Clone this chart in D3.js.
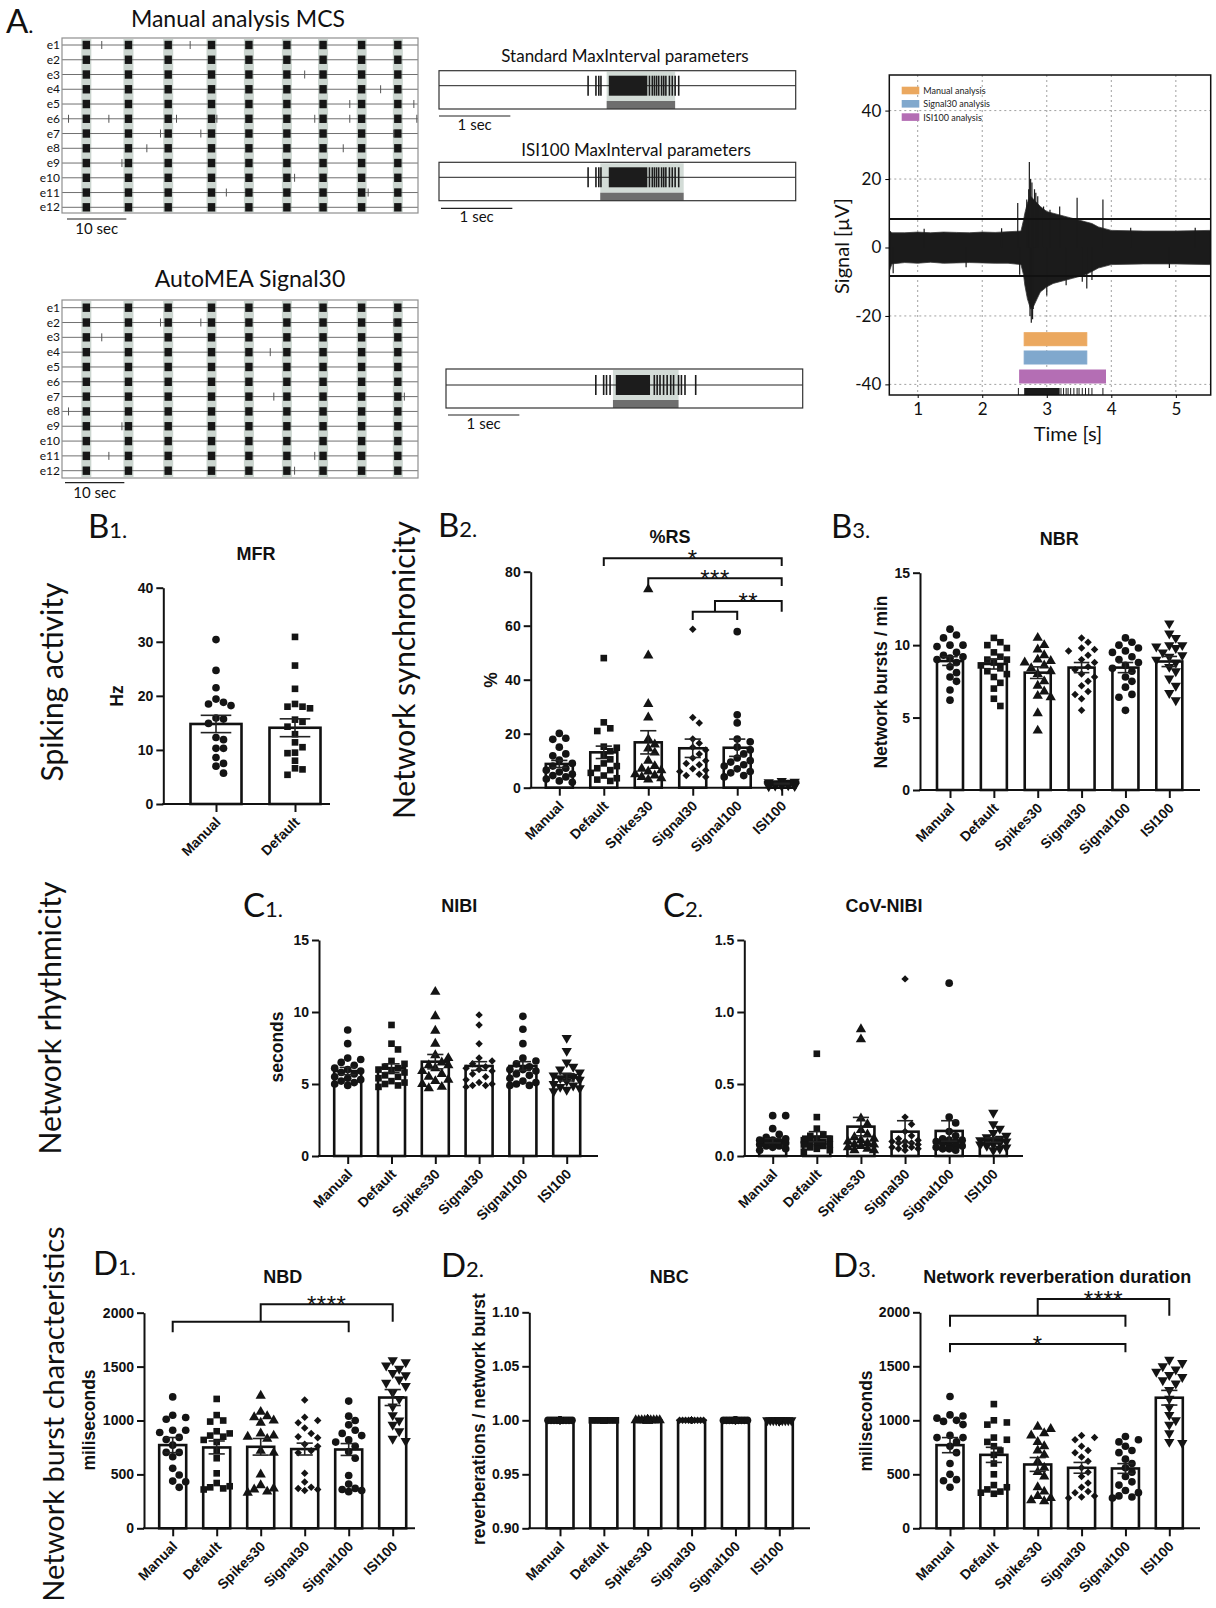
<!DOCTYPE html>
<html><head><meta charset="utf-8">
<script src="https://cdn.jsdelivr.net/npm/d3@7"></script>
<style>body{margin:0;background:#fff}svg{display:block}</style>
</head><body>
<svg id="fig" width="1216" height="1608"></svg>
<script>
// ---------------- DATA ----------------
const electrodes = ["e1","e2","e3","e4","e5","e6","e7","e8","e9","e10","e11","e12"];
const burstTimes = [4.1, 11.2, 17.9, 25.2, 31.5, 37.9, 44.0, 50.5, 56.6];
const manualIsolated = [[6.7,21.6],[],[40.9],[53.7],[48.5,59.3],[1.1,7.9,19.3,26.1,42.6,48.5,59.8],[16.6,23.4,55.9],[14.3,47.4],[10.1],[39.2],[27.7,51.6],[]];
const autoIsolated = [[],[16.6,23.4,55.9],[6.7],[35.1],[],[],[35.7,57.7],[1.1],[10.1],[],[7.9,42.6],[39.2]];

const stdSpikes = [2.09,2.20,2.24,2.27,2.95,2.99,3.02,3.05,3.08,3.12,3.15,3.18,3.23,3.27,3.31,3.36];
const stdCore = [2.38, 2.92];
const stdRange = [2.35, 3.31];
const isiRange = [2.26, 3.43];
const autoSpikes = [2.10,2.21,2.25,2.30,2.92,2.96,3.00,3.05,3.10,3.15,3.19,3.26,3.30,3.35,3.50];
const autoCore = [2.38, 2.86];
const autoRange = [2.34, 3.26];

const sigT     = [0.56,0.6,0.8,1.0,1.2,1.4,1.6,1.8,2.0,2.2,2.4,2.6,2.64,2.66,2.7,2.75,2.8,2.85,2.9,3.0,3.1,3.2,3.3,3.4,3.5,3.6,3.7,3.8,3.9,4.0,4.5,5.0,5.54];
const sigUpper = [5,4.3,4.3,4.5,4.3,4.5,4.4,4.3,4.5,4.4,4.6,4.8,8,10,13,15,14,13,12,10.5,10,9.5,9,8.5,8,7.5,7,6,5.5,5,4.8,4.8,5];
const sigLower = [-7,-4.8,-4.4,-4.6,-4.3,-4.6,-4.5,-4.4,-4.5,-4.6,-4.6,-5,-8,-11,-15,-18,-17,-15,-13,-11.5,-10.5,-10,-9.5,-9,-8.5,-8,-7,-6,-5.5,-5,-4.8,-4.8,-5];
const sigPeaks = [[0.62,-7.5],[1.1,5.5],[1.75,-5.8],[2.3,5.6],[2.55,13],[2.58,-8],[2.69,14],[2.72,17],[2.73,25],[2.75,20],[2.77,19],[2.76,-22],[2.78,-21],[2.74,-20],[2.81,17],[2.83,16],[2.86,15],[2.79,-18],[2.95,12],[3.0,-14],[3.05,11],[3.2,12],[3.3,-11],[3.47,14.5],[3.55,-10],[3.62,-12],[3.7,-9.5],[3.87,14],[4.3,5.8],[4.9,-6],[5.3,5.8]];
const sigThreshold = 8.3;
const detectLabels = ["Manual analysis","Signal30 analysis","ISI100 analysis"];
const detectRanges = [[2.65,3.62],[2.65,3.62],[2.58,3.91]];
const detectColors = ["#eba85f","#80a8cd","#b46eb4"];
const sigRasterCore = [2.65, 3.2];
const sigRasterTicks = [2.56,3.22,3.26,3.30,3.33,3.37,3.42,3.47,3.50,3.55,3.60,3.65,3.70,3.87];

const groups = ["Manual","Default","Spikes30","Signal30","Signal100","ISI100"];
const groupsB1 = ["Manual","Default"];
const shapes = ["circle","square","triangle","diamond","circle","triangleDown"];

// B1 MFR (Hz)
const mfrPoints = [
 [30.4,24.7,21.5,18.8,18.5,18.2,19.4,15.9,15.7,14.9,11.9,12.3,10.3,10.3,8.6,7.5,7.0,5.7],
 [30.9,25.6,21.3,18.5,17.7,18.0,18.0,15.6,15.2,14.3,12.9,11.4,10.5,9.5,9.4,8.0,6.6,6.4,5.4]];
const mfrMeans = [14.8, 14.1];
const mfrSem = [1.6, 1.65];
// B2 %RS
const rsPoints = [
 [20.1,18.3,17.9,15.0,12.5,11.8,10.2,9.0,8.0,7.2,6.5,5.8,5.0,4.5,4.0,3.2,2.5,2.0],
 [48.0,24.2,22.0,21.0,15.2,14.8,13.5,12.0,10.5,9.0,8.0,7.2,6.5,5.5,4.5,3.5,3.0,2.5],
 [73.5,49.0,31.0,26.0,18.0,16.0,14.5,13.0,10.0,8.0,7.0,6.5,6.0,5.0,4.5,4.0,3.5,3.0],
 [58.7,26.0,24.0,18.0,16.5,15.0,14.0,12.5,11.0,10.0,9.0,8.5,7.0,6.5,6.0,5.0,4.5,4.0],
 [57.8,27.0,24.0,18.0,17.0,15.0,14.0,12.5,11.0,10.0,9.5,8.5,8.0,7.0,6.0,5.5,4.5,4.0],
 [2.5,2.2,2.0,1.8,1.7,1.5,1.5,1.4,1.3,1.2,1.1,1.0,1.0,0.9,0.8,0.7,0.6,0.5]];
const rsMeans = [8.8, 13.1, 16.8, 14.6, 14.8, 1.5];
const rsSem = [1.3, 2.3, 4.3, 3.4, 3.2, 0.15];
// B3 NBR
const nbrPoints = [
 [11.1,10.7,10.5,10.0,9.9,10.0,9.5,9.2,9.1,9.0,8.8,8.5,8.1,7.8,7.5,6.9,6.2,9.3],
 [10.5,10.2,10.0,9.8,9.5,9.2,9.0,8.8,8.6,8.4,8.2,8.0,7.8,7.4,7.0,6.3,5.8,9.0],
 [10.5,10.0,9.7,9.3,9.0,8.8,8.6,8.4,8.2,8.0,7.5,7.2,6.8,6.4,6.5,5.3,4.1,8.9],
 [10.5,10.2,9.8,9.6,9.3,9.0,8.8,8.5,8.3,8.0,7.8,7.5,7.2,6.8,6.6,6.3,5.5,9.7],
 [10.5,10.2,10.0,9.8,9.5,9.2,9.0,8.8,8.6,8.4,8.2,7.8,7.5,7.1,6.6,6.4,5.5,9.6],
 [11.5,10.8,10.5,10.0,10.0,9.8,9.5,9.3,9.2,9.0,8.8,8.5,8.2,7.7,7.2,6.7,6.2,9.9]];
const nbrMeans = [8.9, 8.7, 8.1, 8.45, 8.45, 8.87];
const nbrSem = [0.3, 0.35, 0.4, 0.35, 0.35, 0.35];
// C1 NIBI
const nibiPoints = [
 [8.75,7.8,6.8,6.7,6.5,6.3,6.1,6.0,5.9,5.7,5.5,5.4,5.3,5.2,5.1,5.0,4.9,5.8],
 [9.1,7.8,7.4,6.6,6.4,6.2,6.0,5.9,5.8,5.6,5.5,5.4,5.2,5.1,5.0,4.9,4.8,6.1],
 [11.4,9.7,8.7,7.8,7.0,6.8,6.5,6.3,6.1,5.9,5.7,5.5,5.3,5.2,5.0,4.8,4.7,6.3],
 [9.8,9.1,7.8,6.8,6.6,6.4,6.2,6.0,5.9,5.7,5.5,5.3,5.1,5.0,4.9,4.8,4.9,6.1],
 [9.7,8.8,7.8,6.8,6.6,6.4,6.2,6.0,5.9,5.7,5.6,5.4,5.2,5.1,5.0,4.9,4.9,6.0],
 [8.2,7.3,6.5,6.2,6.0,5.8,5.6,5.5,5.4,5.3,5.2,5.0,4.9,4.8,4.7,4.6,4.5,5.6]];
const nibiMeans = [5.9, 6.1, 6.55, 6.25, 6.25, 5.46];
const nibiSem = [0.25, 0.3, 0.5, 0.3, 0.3, 0.25];
// C2 CoV-NIBI
const covPoints = [
 [0.28,0.28,0.19,0.15,0.13,0.12,0.11,0.10,0.10,0.09,0.09,0.08,0.07,0.07,0.06,0.05,0.04,0.11],
 [0.71,0.27,0.19,0.15,0.14,0.12,0.11,0.10,0.10,0.09,0.08,0.08,0.07,0.06,0.05,0.04,0.03,0.12],
 [0.88,0.81,0.26,0.22,0.18,0.15,0.13,0.11,0.10,0.09,0.08,0.08,0.07,0.06,0.05,0.04,0.04,0.12],
 [1.23,0.27,0.22,0.17,0.14,0.12,0.11,0.10,0.09,0.09,0.08,0.07,0.06,0.06,0.05,0.05,0.04,0.10],
 [1.20,0.27,0.23,0.17,0.14,0.12,0.11,0.10,0.10,0.09,0.08,0.07,0.07,0.06,0.05,0.05,0.04,0.11],
 [0.30,0.22,0.19,0.16,0.14,0.13,0.12,0.11,0.10,0.10,0.09,0.08,0.08,0.07,0.06,0.05,0.04,0.11]];
const covMeans = [0.106, 0.134, 0.204, 0.169, 0.174, 0.111];
const covSem = [0.015, 0.035, 0.064, 0.076, 0.071, 0.015];
// D1 NBD (ms)
const nbdPoints = [
 [1219,1049,1028,1012,910,910,889,843,824,771,704,704,664,556,494,438,432,380],
 [1200,1050,1000,990,900,880,860,850,820,800,720,650,510,420,390,380,370,360],
 [1230,1080,1040,1030,1000,980,880,860,850,830,720,700,500,400,370,360,340,330],
 [1190,1030,1000,980,930,880,850,840,780,760,720,700,510,430,380,370,360,350],
 [1180,1040,1000,960,910,880,860,820,800,760,710,650,490,410,370,360,350,340],
 [1560,1540,1510,1480,1440,1420,1380,1350,1320,1260,1200,1130,1050,1000,960,900,830,810]];
const nbdMeans = [772, 750, 756, 735, 731, 1213];
const nbdSem = [70, 60, 77, 55, 55, 74];
// D2 NBC
const nbcPoints = groups.map(() => [1,1,1,1,1,1,1,1,1,1,1,1,1,1,1,1,1,1]);
const nbcMeans = [1, 1, 1, 1, 1, 1];
const nbcSem = [0, 0, 0, 0, 0, 0];
// D3 Network reverberation duration (ms)
const nrdPoints = [
 [1220,1050,1040,1020,1000,990,960,860,840,800,760,700,600,500,450,440,380,840],
 [1150,1000,980,960,840,820,800,760,720,680,600,500,400,380,360,340,330,320],
 [940,920,880,860,800,760,720,680,620,560,520,480,380,340,300,280,260,250],
 [860,840,820,760,720,700,660,620,560,520,480,420,380,340,330,300,290,280],
 [850,820,800,760,720,700,640,600,560,520,480,430,400,350,330,300,290,280],
 [1560,1530,1500,1470,1450,1420,1400,1370,1340,1280,1200,1120,1050,1000,960,880,800,790]];
const nrdMeans = [770, 680, 591, 560, 554, 1209];
const nrdSem = [70, 70, 64, 50, 45, 68];

// ---------------- DRAWING ----------------
const svg = d3.select("#fig");
const SANS = "Lato, 'Open Sans', sans-serif";
const BOLD = "'Liberation Sans', Arial, sans-serif";

function txt(g, x, y, s, size, opts={}) {
  const t = g.append("text").attr("x", x).attr("y", y).text(s)
    .attr("font-family", opts.family || SANS).attr("font-size", size)
    .attr("fill", opts.fill || "#111")
    .attr("text-anchor", opts.anchor || "start");
  if (opts.weight) t.attr("font-weight", opts.weight);
  if (opts.rotate) t.attr("transform", `rotate(${opts.rotate},${x},${y})`);
  return t;
}
function panelLetter(x, y, L, n) {
  const t = svg.append("text").attr("x", x).attr("y", y).attr("font-family", SANS).attr("fill", "#111");
  t.append("tspan").attr("font-size", 33).text(L);
  t.append("tspan").attr("font-size", 22).text(n);
}

// ---- Panel A letters and row labels
panelLetter(6, 33, "A", ".");
txt(svg, 63, 682, "Spiking activity", 30, {anchor: "middle", rotate: -90});
txt(svg, 415, 670, "Network synchronicity", 30, {anchor: "middle", rotate: -90});
txt(svg, 61, 1018, "Network rhythmicity", 30, {anchor: "middle", rotate: -90});
txt(svg, 64, 1414, "Network burst characteristics", 29, {anchor: "middle", rotate: -90});

// ---- Rasters
function raster(cfg) {
  const g = svg.append("g");
  const x = d3.scaleLinear().domain([0, 60]).range([62, 418]);
  const y = d3.scalePoint().domain(electrodes).range([cfg.r0, cfg.r1]);
  txt(g, cfg.titleX, cfg.titleY, cfg.title, 23, {anchor: "middle"});
  burstTimes.forEach(t => g.append("rect").attr("x", x(t) - 5).attr("y", cfg.top + 1)
    .attr("width", 10).attr("height", cfg.bottom - cfg.top - 2).attr("fill", "#cbd5cf"));
  electrodes.forEach(e => g.append("line").attr("x1", 62).attr("x2", 418)
    .attr("y1", y(e)).attr("y2", y(e)).attr("stroke", "#707070").attr("stroke-width", 1));
  g.append("rect").attr("x", 62).attr("y", cfg.top).attr("width", 356).attr("height", cfg.bottom - cfg.top)
    .attr("fill", "none").attr("stroke", "#8f8f8f").attr("stroke-width", 1.2);
  electrodes.forEach(e => burstTimes.forEach(t => g.append("rect").attr("x", x(t) - 3.7).attr("y", y(e) - 4.2)
    .attr("width", 7.4).attr("height", 8.4).attr("fill", "#161616")));
  cfg.isolated.forEach((arr, i) => arr.forEach(t => g.append("line").attr("x1", x(t)).attr("x2", x(t))
    .attr("y1", y(electrodes[i]) - 4).attr("y2", y(electrodes[i]) + 4).attr("stroke", "#555").attr("stroke-width", 1)));
  electrodes.forEach(e => txt(g, 60, y(e) + 4, e, 12, {anchor: "end"}));
  g.append("line").attr("x1", x(0) + cfg.sb).attr("x2", x(10) + cfg.sb).attr("y1", cfg.sbY).attr("y2", cfg.sbY)
    .attr("stroke", "#222").attr("stroke-width", 1.2);
  txt(g, (x(0) + x(10)) / 2 + cfg.sb, cfg.sbY + 15, "10 sec", 15, {anchor: "middle"});
}
raster({title: "Manual analysis MCS", titleX: 238, titleY: 27, top: 38, bottom: 213, r0: 45, r1: 207.3, isolated: manualIsolated, sb: 5, sbY: 219});
raster({title: "AutoMEA Signal30", titleX: 250, titleY: 287, top: 300, bottom: 478, r0: 307.7, r1: 470.7, isolated: autoIsolated, sb: 3, sbY: 482.7});

// ---- Burst detail boxes
function burstBox(cfg) {
  const g = svg.append("g");
  const x = d3.scaleLinear().domain([0, 5]).range([cfg.x0, cfg.x0 + 356.7]);
  if (cfg.title) txt(g, cfg.titleX, cfg.titleY, cfg.title, 17, {anchor: "middle"});
  g.append("rect").attr("x", x(cfg.range[0])).attr("y", cfg.top + 1).attr("width", x(cfg.range[1]) - x(cfg.range[0]))
    .attr("height", cfg.bottom - cfg.top - 9).attr("fill", "#d3dcd7");
  g.append("rect").attr("x", x(cfg.range[0])).attr("y", cfg.bottom - 8).attr("width", x(cfg.range[1]) - x(cfg.range[0]))
    .attr("height", 8).attr("fill", "#6e6e6e");
  g.append("line").attr("x1", x(0)).attr("x2", x(5)).attr("y1", cfg.mid).attr("y2", cfg.mid).attr("stroke", "#222").attr("stroke-width", 1);
  g.append("rect").attr("x", x(cfg.core[0])).attr("y", cfg.mid - 10).attr("width", x(cfg.core[1]) - x(cfg.core[0]))
    .attr("height", 20).attr("fill", "#1c1c1c");
  cfg.spikes.forEach(t => g.append("line").attr("x1", x(t)).attr("x2", x(t)).attr("y1", cfg.mid - 10).attr("y2", cfg.mid + 10)
    .attr("stroke", "#1c1c1c").attr("stroke-width", 1.6));
  g.append("rect").attr("x", x(0)).attr("y", cfg.top).attr("width", 356.7).attr("height", cfg.bottom - cfg.top)
    .attr("fill", "none").attr("stroke", "#333").attr("stroke-width", 1.2);
  g.append("line").attr("x1", x(0) + cfg.sb).attr("x2", x(1) + cfg.sb).attr("y1", cfg.sbY).attr("y2", cfg.sbY)
    .attr("stroke", "#222").attr("stroke-width", 1.2);
  txt(g, (x(0) + x(1)) / 2 + cfg.sb, cfg.sbY + 14, "1 sec", 15, {anchor: "middle"});
}
burstBox({title: "Standard MaxInterval parameters", titleX: 625, titleY: 62, x0: 439, top: 70.7, bottom: 109, mid: 85.7, range: stdRange, core: stdCore, spikes: stdSpikes, sb: 0, sbY: 116});
burstBox({title: "ISI100 MaxInterval parameters", titleX: 636, titleY: 156, x0: 439, top: 162.3, bottom: 200.7, mid: 177.3, range: isiRange, core: stdCore, spikes: stdSpikes, sb: 2, sbY: 208.3});
burstBox({title: null, x0: 446, top: 369, bottom: 408, mid: 385, range: autoRange, core: autoCore, spikes: autoSpikes, sb: 2, sbY: 415});

// ---- Signal panel
(function () {
  const g = svg.append("g");
  const x = d3.scaleLinear().domain([0.56, 5.54]).range([889.3, 1210.7]);
  const y = d3.scaleLinear().domain([-43.1, 50.4]).range([395, 75]);
  const clip = g.append("clipPath").attr("id", "sigclip");
  clip.append("rect").attr("x", 889.3).attr("y", 75).attr("width", 321.4).attr("height", 320);
  [1, 2, 3, 4, 5].forEach(v => g.append("line").attr("x1", x(v)).attr("x2", x(v)).attr("y1", 75).attr("y2", 395)
    .attr("stroke", "#a0a0a0").attr("stroke-dasharray", "2,3").attr("stroke-width", 1));
  [-40, -20, 0, 20, 40].forEach(v => g.append("line").attr("x1", 889.3).attr("x2", 1210.7).attr("y1", y(v)).attr("y2", y(v))
    .attr("stroke", "#a0a0a0").attr("stroke-dasharray", "2,3").attr("stroke-width", 1));
  const inner = g.append("g").attr("clip-path", "url(#sigclip)");
  const area = d3.area().x((d, i) => x(sigT[i])).y0((d, i) => y(sigLower[i])).y1((d, i) => y(sigUpper[i]));
  inner.append("path").attr("d", area(sigT)).attr("fill", "#1b1b1b").attr("stroke", "#3a3a3a").attr("stroke-width", 0.8);
  sigPeaks.forEach(p => inner.append("line").attr("x1", x(p[0])).attr("x2", x(p[0])).attr("y1", y(0)).attr("y2", y(p[1]))
    .attr("stroke", "#1b1b1b").attr("stroke-width", 1.2));
  [sigThreshold, -sigThreshold].forEach(v => inner.append("line").attr("x1", 889.3).attr("x2", 1210.7).attr("y1", y(v)).attr("y2", y(v))
    .attr("stroke", "#111").attr("stroke-width", 2));
  const barY = [332.7, 351, 370];
  detectRanges.forEach((r, i) => inner.append("rect").attr("x", x(r[0])).attr("y", barY[i]).attr("width", x(r[1]) - x(r[0]))
    .attr("height", 13).attr("fill", detectColors[i]).attr("stroke", detectColors[i]).attr("stroke-width", 1));
  inner.append("rect").attr("x", x(sigRasterCore[0])).attr("y", 388).attr("width", x(sigRasterCore[1]) - x(sigRasterCore[0]))
    .attr("height", 7).attr("fill", "#1b1b1b");
  sigRasterTicks.forEach(t => inner.append("line").attr("x1", x(t)).attr("x2", x(t)).attr("y1", 388).attr("y2", 395)
    .attr("stroke", "#1b1b1b").attr("stroke-width", 1));
  detectLabels.forEach((s, i) => {
    g.append("rect").attr("x", 901.7).attr("y", 86.7 + i * 13.3).attr("width", 17.6).attr("height", 7.6).attr("fill", detectColors[i]);
    txt(g, 923.3, 94 + i * 13.3, s, 9, {fill: "#222"});
  });
  g.append("rect").attr("x", 889.3).attr("y", 75).attr("width", 321.4).attr("height", 320)
    .attr("fill", "none").attr("stroke", "#111").attr("stroke-width", 1.5);
  const ya = g.append("g").attr("transform", "translate(889.3,0)")
    .call(d3.axisLeft(y).tickValues([-40, -20, 0, 20, 40]).tickFormat(d => String(d)).tickSize(4).tickSizeOuter(0).tickPadding(4));
  ya.select(".domain").remove();
  ya.selectAll("text").attr("font-family", SANS).attr("font-size", 17).attr("fill", "#111");
  const xa = g.append("g").attr("transform", "translate(0,395)")
    .call(d3.axisBottom(x).tickValues([1, 2, 3, 4, 5]).tickFormat(d => String(d)).tickSize(3).tickSizeOuter(0).tickPadding(5));
  xa.select(".domain").remove();
  xa.selectAll("text").attr("font-family", SANS).attr("font-size", 17).attr("fill", "#111");
  txt(g, 849, 246, "Signal [\u00b5V]", 20, {anchor: "middle", rotate: -90});
  txt(g, 1068, 441, "Time [s]", 20, {anchor: "middle"});
})();

// ---- Bar panels
function symFor(shape) {
  if (shape === "circle") return {type: d3.symbolCircle, size: 46, rot: 0};
  if (shape === "square") return {type: d3.symbolSquare, size: 44, rot: 0};
  if (shape === "triangle") return {type: d3.symbolTriangle, size: 46, rot: 0};
  if (shape === "diamond") return {type: d3.symbolSquare, size: 28, rot: 45};
  return {type: d3.symbolTriangle, size: 46, rot: 180};
}
function swarm(values, cx, y, spacing, maxOff, minDist) {
  const idx = values.map((v, i) => i).sort((a, b) => values[b] - values[a]);
  const placed = [];
  const xs = new Array(values.length);
  const cands = [0];
  for (let k = 1; k * spacing <= maxOff + 0.01; k++) cands.push(k * spacing, -k * spacing);
  idx.forEach(i => {
    const py = y(values[i]);
    let best = 0, bestD = -1;
    for (const o of cands) {
      let md = Infinity;
      for (const p of placed) { const d = Math.hypot(p.x - (cx + o), p.y - py); if (d < md) md = d; }
      if (md >= minDist) { best = o; break; }
      if (md > bestD) { bestD = md; best = o; }
    }
    placed.push({x: cx + best, y: py});
    xs[i] = cx + best;
  });
  return xs;
}
function styleAxisText(sel) {
  sel.selectAll("text").attr("font-family", BOLD).attr("font-weight", "bold").attr("font-size", 14).attr("fill", "#111");
}
function barPanel(c) {
  const g = svg.append("g");
  const x = d3.scalePoint().domain(c.cats).range(c.xr);
  const y = d3.scaleLinear().domain(c.yd).range(c.yr);
  const base = y(c.yd[0]);
  txt(g, c.titleX, c.titleY, c.title, 18, {family: BOLD, weight: "bold", anchor: "middle"});
  if (c.ylabel) txt(g, c.ylX, c.ylY, c.ylabel, 17.5, {family: BOLD, weight: "bold", anchor: "middle", rotate: -90});
  c.means.forEach((m, i) => {
    const cx = x(c.cats[i]);
    g.append("rect").attr("x", cx - c.bw / 2).attr("y", y(m)).attr("width", c.bw).attr("height", base - y(m))
      .attr("fill", "#fff").attr("stroke", "#111").attr("stroke-width", 2.6);
  });
  c.points.forEach((vals, i) => {
    const cx = x(c.cats[i]);
    const s = symFor(c.shapes[i]);
    const xs = swarm(vals, cx, y, c.sp || 6.5, c.bw / 2, c.md || 7.3);
    const path = d3.symbol().type(s.type).size(s.size)();
    vals.forEach((v, j) => g.append("path").attr("d", path)
      .attr("transform", `translate(${xs[j]},${y(v)}) rotate(${s.rot})`).attr("fill", "#141414"));
  });
  c.means.forEach((m, i) => {
    if (!c.sem[i]) return;
    const cx = x(c.cats[i]), cw = c.bw * 0.3;
    const eg = g.append("g").attr("stroke", "#222").attr("stroke-width", 1.6);
    eg.append("line").attr("x1", cx).attr("x2", cx).attr("y1", y(m - c.sem[i])).attr("y2", y(m + c.sem[i]));
    [m - c.sem[i], m + c.sem[i]].forEach(v => eg.append("line").attr("x1", cx - cw).attr("x2", cx + cw).attr("y1", y(v)).attr("y2", y(v)));
  });
  const ya = g.append("g").attr("transform", `translate(${c.ax},0)`)
    .call(d3.axisLeft(y).tickValues(c.ticks).tickFormat(c.fmt).tickSize(7).tickSizeOuter(0).tickPadding(3));
  ya.select(".domain").attr("stroke-width", 2).attr("stroke", "#111");
  ya.selectAll(".tick line").attr("stroke-width", 2).attr("stroke", "#111");
  styleAxisText(ya);
  const xa = g.append("g").attr("transform", `translate(0,${base})`)
    .call(d3.axisBottom(x).tickSize(8).tickSizeOuter(0));
  xa.select(".domain").remove();
  xa.selectAll(".tick line").attr("stroke-width", 2).attr("stroke", "#111");
  styleAxisText(xa);
  xa.selectAll("text").attr("x", 0).attr("y", 0).attr("dy", 0).attr("text-anchor", "end")
    .attr("transform", "translate(5,19) rotate(-45)");
  g.append("line").attr("x1", c.ax - 1).attr("x2", c.xEnd).attr("y1", base).attr("y2", base).attr("stroke", "#111").attr("stroke-width", 2);
  (c.brackets || []).forEach(b => {
    const px = p => typeof p === "string" ? x(p) : p(x);
    const pts = b.path.map(p => [px(p[0]), p[1]]);
    g.append("path").attr("d", d3.line()(pts)).attr("fill", "none").attr("stroke", "#111").attr("stroke-width", 2);
    if (b.label) {
      const sx = (pts[1][0] + pts[2][0]) / 2;
      txt(g, sx, pts[1][1] + 9, b.label, 24, {family: BOLD, anchor: "middle"}).attr("letter-spacing", 0.5);
    }
  });
}
const mid = (a, b) => (x) => (x(a) + x(b)) / 2;

panelLetter(88, 538, "B", "1.");
barPanel({cats: groupsB1, shapes: ["circle", "square"], points: mfrPoints, means: mfrMeans, sem: mfrSem,
  xr: [216, 295], yd: [0, 40], yr: [804, 587.7], ax: 163.3, xEnd: 330, bw: 51, sp: 7.5, md: 7.5,
  ticks: [0, 10, 20, 30, 40], fmt: d3.format("d"), title: "MFR", titleX: 256, titleY: 560,
  ylabel: "Hz", ylX: 123, ylY: 696});

panelLetter(438, 537, "B", "2.");
barPanel({cats: groups, shapes, points: rsPoints, means: rsMeans, sem: rsSem,
  xr: [559.3, 781.7], yd: [0, 80], yr: [787.7, 571.7], ax: 530.7, xEnd: 793, bw: 27,
  ticks: [0, 20, 40, 60, 80], fmt: d3.format("d"), title: "%RS", titleX: 670, titleY: 543,
  ylabel: "%", ylX: 496.5, ylY: 680,
  brackets: [
    {path: [["Default", 566], ["Default", 558.3], ["ISI100", 558.3], ["ISI100", 566]], label: "*"},
    {path: [["Spikes30", 586], ["Spikes30", 578.3], ["ISI100", 578.3], ["ISI100", 586]], label: "***"},
    {path: [["Signal30", 620], ["Signal30", 611.7], ["Signal100", 611.7], ["Signal100", 620]], label: ""},
    {path: [[mid("Signal30", "Signal100"), 611.7], [mid("Signal30", "Signal100"), 601], ["ISI100", 601], ["ISI100", 611.7]], label: "**"}
  ]});

panelLetter(831, 538, "B", "3.");
barPanel({cats: groups, shapes, points: nbrPoints, means: nbrMeans, sem: nbrSem,
  xr: [950, 1169.3], yd: [0, 15], yr: [790, 572.7], ax: 920, xEnd: 1200, bw: 26,
  ticks: [0, 5, 10, 15], fmt: d3.format("d"), title: "NBR", titleX: 1059.3, titleY: 545,
  ylabel: "Network bursts / min", ylX: 887, ylY: 682});

panelLetter(243, 917, "C", "1.");
barPanel({cats: groups, shapes, points: nibiPoints, means: nibiMeans, sem: nibiSem,
  xr: [347.7, 566.7], yd: [0, 15], yr: [1156, 940], ax: 319, xEnd: 598, bw: 27,
  ticks: [0, 5, 10, 15], fmt: d3.format("d"), title: "NIBI", titleX: 459.3, titleY: 911.7,
  ylabel: "seconds", ylX: 283, ylY: 1047});

panelLetter(663, 917, "C", "2.");
barPanel({cats: groups, shapes, points: covPoints, means: covMeans, sem: covSem,
  xr: [772.7, 993.3], yd: [0, 1.5], yr: [1156, 940], ax: 744.3, xEnd: 1023, bw: 27,
  ticks: [0, 0.5, 1.0, 1.5], fmt: d3.format(".1f"), title: "CoV-NIBI", titleX: 884, titleY: 911.7});

panelLetter(93, 1275, "D", "1.");
barPanel({cats: groups, shapes, points: nbdPoints, means: nbdMeans, sem: nbdSem,
  xr: [172.7, 392.7], yd: [0, 2000], yr: [1528.3, 1312.7], ax: 144, xEnd: 415, bw: 27,
  ticks: [0, 500, 1000, 1500, 2000], fmt: d3.format("d"), title: "NBD", titleX: 282.7, titleY: 1282.7,
  ylabel: "miliseconds", ylX: 95, ylY: 1420,
  brackets: [
    {path: [["Manual", 1332.3], ["Manual", 1321.7], ["Signal100", 1321.7], ["Signal100", 1332.3]], label: ""},
    {path: [[mid("Manual", "Signal100"), 1321.7], [mid("Manual", "Signal100"), 1304.3], ["ISI100", 1304.3], ["ISI100", 1321.7]], label: "****"}
  ]});

panelLetter(441, 1277, "D", "2.");
barPanel({cats: groups, shapes, points: nbcPoints, means: nbcMeans, sem: nbcSem,
  xr: [560, 779.3], yd: [0.9, 1.1], yr: [1528.3, 1312.3], ax: 529.3, xEnd: 810, bw: 27, sp: 3,
  ticks: [0.9, 0.95, 1.0, 1.05, 1.1], fmt: d3.format(".2f"), title: "NBC", titleX: 669.3, titleY: 1283.3,
  ylabel: "reverberations / network burst", ylX: 485, ylY: 1419});

panelLetter(833, 1277, "D", "3.");
barPanel({cats: groups, shapes, points: nrdPoints, means: nrdMeans, sem: nrdSem,
  xr: [950, 1169.3], yd: [0, 2000], yr: [1528.3, 1312.3], ax: 920, xEnd: 1200, bw: 27,
  ticks: [0, 500, 1000, 1500, 2000], fmt: d3.format("d"), title: "Network reverberation duration", titleX: 1057.3, titleY: 1282.7,
  ylabel: "miliseconds", ylX: 871.7, ylY: 1421,
  brackets: [
    {path: [["Manual", 1326.7], ["Manual", 1315.7], ["Signal100", 1315.7], ["Signal100", 1326.7]], label: ""},
    {path: [[mid("Manual", "Signal100"), 1315.7], [mid("Manual", "Signal100"), 1299], ["ISI100", 1299], ["ISI100", 1315.7]], label: "****"},
    {path: [["Manual", 1352.3], ["Manual", 1344], ["Signal100", 1344], ["Signal100", 1352.3]], label: "*"}
  ]});
</script>
</body></html>
